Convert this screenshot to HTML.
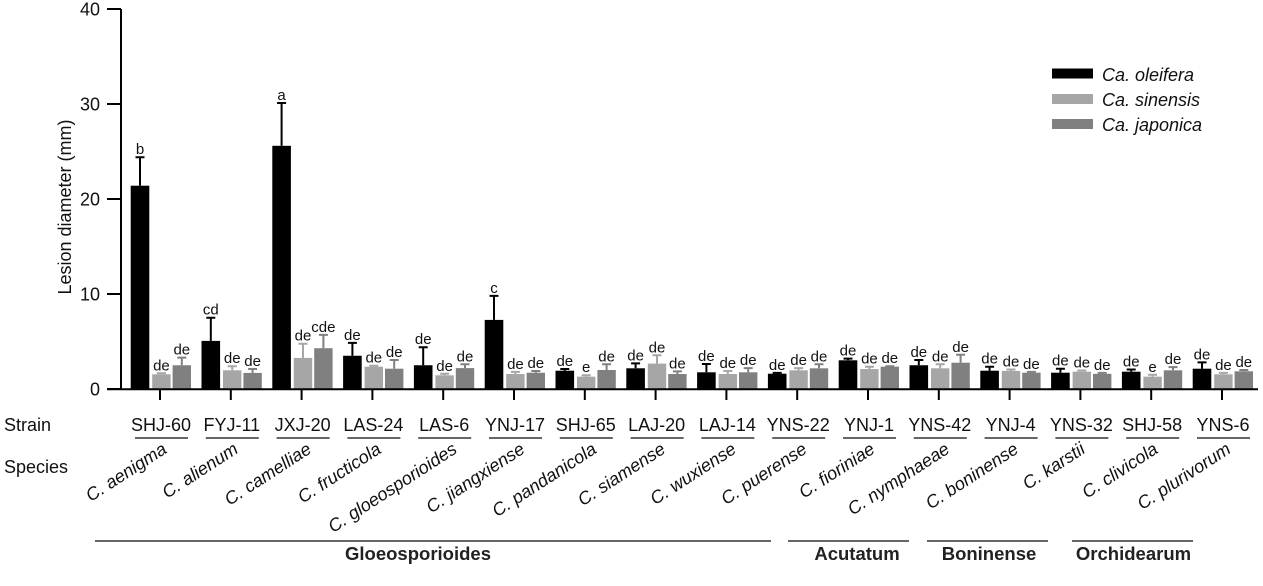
<!DOCTYPE html>
<html>
<head>
<meta charset="utf-8">
<style>
html,body{margin:0;padding:0;background:#fff;}
svg{display:block;font-family:"Liberation Sans",Arial,sans-serif;}
.k{fill:#000;}
.l{fill:#a6a6a6;}
.d{fill:#808080;}
.ek{stroke:#000;stroke-width:2;fill:none;}
.el{stroke:#a6a6a6;stroke-width:2;fill:none;}
.ed{stroke:#808080;stroke-width:2;fill:none;}
.sig text{font-size:15px;text-anchor:middle;fill:#111;}
.strain{font-size:18px;text-anchor:middle;fill:#111;}
.sp{font-size:18px;font-style:italic;text-anchor:end;fill:#111;}
.grp{font-size:18.5px;font-weight:bold;text-anchor:middle;fill:#222;}
</style>
</head>
<body>
<svg width="1263" height="586" viewBox="0 0 1263 586" xmlns="http://www.w3.org/2000/svg">
<rect x="0" y="0" width="1263" height="586" fill="#fff"/>

<g class="sig" transform="translate(160,0)">
<rect class="k" x="-29.3" y="185.7" width="18.6" height="204.3"/>
<rect class="l" x="-7.8" y="374.3" width="18.4" height="15.7"/>
<rect class="d" x="12.6" y="365.25" width="18.4" height="24.75"/>
<path class="ek" d="M-20 185.7V157.2M-24.5 157.2H-15.5"/>
<path class="el" d="M1.4 374.3V373.3M-3.1 373.3H5.9"/>
<path class="ed" d="M21.8 365.25V357.65M17.3 357.65H26.3"/>
<text x="-20" y="154.2">b</text><text x="1.4" y="370.3">de</text><text x="21.8" y="354.6">de</text>
</g>
<g class="sig" transform="translate(230.8,0)">
<rect class="k" x="-29.3" y="340.9" width="18.6" height="49.1"/>
<rect class="l" x="-7.8" y="370.3" width="18.4" height="19.7"/>
<rect class="d" x="12.6" y="372.9" width="18.4" height="17.1"/>
<path class="ek" d="M-20 340.9V317.75M-24.5 317.75H-15.5"/>
<path class="el" d="M1.4 370.3V366.2M-3.1 366.2H5.9"/>
<path class="ed" d="M21.8 372.9V369.05M17.3 369.05H26.3"/>
<text x="-20" y="314.7">cd</text><text x="1.4" y="363.2">de</text><text x="21.8" y="366">de</text>
</g>
<g class="sig" transform="translate(301.6,0)">
<rect class="k" x="-29.3" y="145.8" width="18.6" height="244.2"/>
<rect class="l" x="-7.8" y="357.9" width="18.4" height="32.1"/>
<rect class="d" x="12.6" y="348.2" width="18.4" height="41.8"/>
<path class="ek" d="M-20 145.8V103.05M-24.5 103.05H-15.5"/>
<path class="el" d="M1.4 357.9V343.7M-3.1 343.7H5.9"/>
<path class="ed" d="M21.8 348.2V334.85M17.3 334.85H26.3"/>
<text x="-20" y="100">a</text><text x="1.4" y="340.7">de</text><text x="21.8" y="331.8">cde</text>
</g>
<g class="sig" transform="translate(372.4,0)">
<rect class="k" x="-29.3" y="355.75" width="18.6" height="34.25"/>
<rect class="l" x="-7.8" y="366.7" width="18.4" height="23.3"/>
<rect class="d" x="12.6" y="368.7" width="18.4" height="21.3"/>
<path class="ek" d="M-20 355.75V342.9M-24.5 342.9H-15.5"/>
<path class="el" d="M1.4 366.7V365.7M-3.1 365.7H5.9"/>
<path class="ed" d="M21.8 368.7V360M17.3 360H26.3"/>
<text x="-20" y="339.9">de</text><text x="1.4" y="362.7">de</text><text x="21.8" y="357">de</text>
</g>
<g class="sig" transform="translate(443.2,0)">
<rect class="k" x="-29.3" y="365.25" width="18.6" height="24.75"/>
<rect class="l" x="-7.8" y="375.3" width="18.4" height="14.7"/>
<rect class="d" x="12.6" y="368.1" width="18.4" height="21.9"/>
<path class="ek" d="M-20 365.25V347.2M-24.5 347.2H-15.5"/>
<path class="el" d="M1.4 375.3V373.8M-3.1 373.8H5.9"/>
<path class="ed" d="M21.8 368.1V364.3M17.3 364.3H26.3"/>
<text x="-20" y="344.2">de</text><text x="1.4" y="370.8">de</text><text x="21.8" y="361.3">de</text>
</g>
<g class="sig" transform="translate(514,0)">
<rect class="k" x="-29.3" y="319.9" width="18.6" height="70.1"/>
<rect class="l" x="-7.8" y="374" width="18.4" height="16"/>
<rect class="d" x="12.6" y="372.7" width="18.4" height="17.3"/>
<path class="ek" d="M-20 319.9V295.9M-24.5 295.9H-15.5"/>
<path class="el" d="M1.4 374V371.9M-3.1 371.9H5.9"/>
<path class="ed" d="M21.8 372.7V370.95M17.3 370.95H26.3"/>
<text x="-20" y="292.9">c</text><text x="1.4" y="368.9">de</text><text x="21.8" y="368">de</text>
</g>
<g class="sig" transform="translate(584.8,0)">
<rect class="k" x="-29.3" y="370.7" width="18.6" height="19.3"/>
<rect class="l" x="-7.8" y="376.65" width="18.4" height="13.35"/>
<rect class="d" x="12.6" y="370" width="18.4" height="20"/>
<path class="ek" d="M-20 370.7V369.05M-24.5 369.05H-15.5"/>
<path class="el" d="M1.4 376.65V375.2M-3.1 375.2H5.9"/>
<path class="ed" d="M21.8 370V364.3M17.3 364.3H26.3"/>
<text x="-20" y="366">de</text><text x="1.4" y="372.2">e</text><text x="21.8" y="361.3">de</text>
</g>
<g class="sig" transform="translate(655.6,0)">
<rect class="k" x="-29.3" y="368.3" width="18.6" height="21.7"/>
<rect class="l" x="-7.8" y="363.6" width="18.4" height="26.4"/>
<rect class="d" x="12.6" y="374" width="18.4" height="16"/>
<path class="ek" d="M-20 368.3V363.35M-24.5 363.35H-15.5"/>
<path class="el" d="M1.4 363.6V355.3M-3.1 355.3H5.9"/>
<path class="ed" d="M21.8 374V371.4M17.3 371.4H26.3"/>
<text x="-20" y="360.3">de</text><text x="1.4" y="352.3">de</text><text x="21.8" y="368.4">de</text>
</g>
<g class="sig" transform="translate(726.4,0)">
<rect class="k" x="-29.3" y="372.3" width="18.6" height="17.7"/>
<rect class="l" x="-7.8" y="374" width="18.4" height="16"/>
<rect class="d" x="12.6" y="372.3" width="18.4" height="17.7"/>
<path class="ek" d="M-20 372.3V364M-24.5 364H-15.5"/>
<path class="el" d="M1.4 374V370.95M-3.1 370.95H5.9"/>
<path class="ed" d="M21.8 372.3V368.1M17.3 368.1H26.3"/>
<text x="-20" y="361">de</text><text x="1.4" y="368">de</text><text x="21.8" y="365.1">de</text>
</g>
<g class="sig" transform="translate(797.2,0)">
<rect class="k" x="-29.3" y="373.7" width="18.6" height="16.3"/>
<rect class="l" x="-7.8" y="370.3" width="18.4" height="19.7"/>
<rect class="d" x="12.6" y="368.3" width="18.4" height="21.7"/>
<path class="ek" d="M-20 373.7V372.85M-24.5 372.85H-15.5"/>
<path class="el" d="M1.4 370.3V368.1M-3.1 368.1H5.9"/>
<path class="ed" d="M21.8 368.3V364.3M17.3 364.3H26.3"/>
<text x="-20" y="369.9">de</text><text x="1.4" y="365.1">de</text><text x="21.8" y="361.3">de</text>
</g>
<g class="sig" transform="translate(868,0)">
<rect class="k" x="-29.3" y="360.3" width="18.6" height="29.7"/>
<rect class="l" x="-7.8" y="369.05" width="18.4" height="20.95"/>
<rect class="d" x="12.6" y="366.7" width="18.4" height="23.3"/>
<path class="ek" d="M-20 360.3V358.6M-24.5 358.6H-15.5"/>
<path class="el" d="M1.4 369.05V366.7M-3.1 366.7H5.9"/>
<path class="ed" d="M21.8 366.7V366.2M17.3 366.2H26.3"/>
<text x="-20" y="355.6">de</text><text x="1.4" y="363.7">de</text><text x="21.8" y="363.2">de</text>
</g>
<g class="sig" transform="translate(938.8,0)">
<rect class="k" x="-29.3" y="365.25" width="18.6" height="24.75"/>
<rect class="l" x="-7.8" y="368.3" width="18.4" height="21.7"/>
<rect class="d" x="12.6" y="362.7" width="18.4" height="27.3"/>
<path class="ek" d="M-20 365.25V360M-24.5 360H-15.5"/>
<path class="el" d="M1.4 368.3V364.3M-3.1 364.3H5.9"/>
<path class="ed" d="M21.8 362.7V354.8M17.3 354.8H26.3"/>
<text x="-20" y="357">de</text><text x="1.4" y="361.3">de</text><text x="21.8" y="351.8">de</text>
</g>
<g class="sig" transform="translate(1009.6,0)">
<rect class="k" x="-29.3" y="370.7" width="18.6" height="19.3"/>
<rect class="l" x="-7.8" y="370.95" width="18.4" height="19.05"/>
<rect class="d" x="12.6" y="372.7" width="18.4" height="17.3"/>
<path class="ek" d="M-20 370.7V366.7M-24.5 366.7H-15.5"/>
<path class="el" d="M1.4 370.95V369.5M-3.1 369.5H5.9"/>
<path class="ed" d="M21.8 372.7V371.9M17.3 371.9H26.3"/>
<text x="-20" y="363.7">de</text><text x="1.4" y="366.5">de</text><text x="21.8" y="368.9">de</text>
</g>
<g class="sig" transform="translate(1080.4,0)">
<rect class="k" x="-29.3" y="372.7" width="18.6" height="17.3"/>
<rect class="l" x="-7.8" y="371.7" width="18.4" height="18.3"/>
<rect class="d" x="12.6" y="373.8" width="18.4" height="16.2"/>
<path class="ek" d="M-20 372.7V368.7M-24.5 368.7H-15.5"/>
<path class="el" d="M1.4 371.7V370.5M-3.1 370.5H5.9"/>
<path class="ed" d="M21.8 373.8V372.85M17.3 372.85H26.3"/>
<text x="-20" y="365.7">de</text><text x="1.4" y="367.5">de</text><text x="21.8" y="369.9">de</text>
</g>
<g class="sig" transform="translate(1151.2,0)">
<rect class="k" x="-29.3" y="371.7" width="18.6" height="18.3"/>
<rect class="l" x="-7.8" y="376.65" width="18.4" height="13.35"/>
<rect class="d" x="12.6" y="370.3" width="18.4" height="19.7"/>
<path class="ek" d="M-20 371.7V369.5M-24.5 369.5H-15.5"/>
<path class="el" d="M1.4 376.65V374.75M-3.1 374.75H5.9"/>
<path class="ed" d="M21.8 370.3V367.15M17.3 367.15H26.3"/>
<text x="-20" y="366.5">de</text><text x="1.4" y="371.8">e</text><text x="21.8" y="364.2">de</text>
</g>
<g class="sig" transform="translate(1222,0)">
<rect class="k" x="-29.3" y="368.7" width="18.6" height="21.3"/>
<rect class="l" x="-7.8" y="374.3" width="18.4" height="15.7"/>
<rect class="d" x="12.6" y="371.3" width="18.4" height="18.7"/>
<path class="ek" d="M-20 368.7V362.4M-24.5 362.4H-15.5"/>
<path class="el" d="M1.4 374.3V372.85M-3.1 372.85H5.9"/>
<path class="ed" d="M21.8 371.3V370M17.3 370H26.3"/>
<text x="-20" y="359.4">de</text><text x="1.4" y="369.9">de</text><text x="21.8" y="367">de</text>
</g>

<g stroke="#000" stroke-width="2" fill="none">
<path d="M121 9V390"/>
<path d="M107 389.3H1258"/>
<path d="M107 9H121M107 104H121M107 199H121M107 294H121M107 389H121"/>
<path d="M160 390V400M230.8 390V400M301.6 390V400M372.4 390V400M443.2 390V400M514 390V400M584.8 390V400M655.6 390V400M726.4 390V400M797.2 390V400M868 390V400M938.8 390V400M1009.6 390V400M1080.4 390V400M1151.2 390V400M1222 390V400"/>
</g>
<g font-size="18" text-anchor="end" fill="#111">
<text x="100" y="15.4">40</text>
<text x="100" y="110.4">30</text>
<text x="100" y="205.4">20</text>
<text x="100" y="300.4">10</text>
<text x="100" y="395.4">0</text>
</g>
<text transform="translate(71,207) rotate(-90)" font-size="18" text-anchor="middle" fill="#111">Lesion diameter (mm)</text>

<text x="4" y="431" font-size="18" fill="#111">Strain</text>
<text x="4" y="473" font-size="18" fill="#111">Species</text>
<g class="strain">
<text class="strain" x="161" y="431">SHJ-60</text>
<text class="strain" x="231.8" y="431">FYJ-11</text>
<text class="strain" x="302.6" y="431">JXJ-20</text>
<text class="strain" x="373.4" y="431">LAS-24</text>
<text class="strain" x="444.2" y="431">LAS-6</text>
<text class="strain" x="515" y="431">YNJ-17</text>
<text class="strain" x="585.8" y="431">SHJ-65</text>
<text class="strain" x="656.6" y="431">LAJ-20</text>
<text class="strain" x="727.4" y="431">LAJ-14</text>
<text class="strain" x="798.2" y="431">YNS-22</text>
<text class="strain" x="869" y="431">YNJ-1</text>
<text class="strain" x="939.8" y="431">YNS-42</text>
<text class="strain" x="1010.6" y="431">YNJ-4</text>
<text class="strain" x="1081.4" y="431">YNS-32</text>
<text class="strain" x="1152.2" y="431">SHJ-58</text>
<text class="strain" x="1223" y="431">YNS-6</text>
</g>
<g stroke="#333" stroke-width="1.5">
<path d="M135 438H188M205.8 438H258.8M276.6 438H329.6M347.4 438H400.4M418.2 438H471.2M489 438H542M559.8 438H612.8M630.6 438H683.6M701.4 438H754.4M772.2 438H825.2M843 438H896M913.8 438H966.8M984.6 438H1037.6M1055.4 438H1108.4M1126.2 438H1179.2M1197 438H1250"/>
</g>

<text class="sp" transform="translate(168,452) rotate(-33)">C. aenigma</text>
<text class="sp" transform="translate(239.3,452) rotate(-33)">C. alienum</text>
<text class="sp" transform="translate(312.6,452) rotate(-33)">C. camelliae</text>
<text class="sp" transform="translate(382.4,452) rotate(-33)">C. fructicola</text>
<text class="sp" transform="translate(458.2,452) rotate(-33)">C. gloeosporioides</text>
<text class="sp" transform="translate(526,452) rotate(-33)">C. jiangxiense</text>
<text class="sp" transform="translate(597.8,452) rotate(-33)">C. pandanicola</text>
<text class="sp" transform="translate(666.6,452) rotate(-33)">C. siamense</text>
<text class="sp" transform="translate(737.4,452) rotate(-33)">C. wuxiense</text>
<text class="sp" transform="translate(808.2,452) rotate(-33)">C. puerense</text>
<text class="sp" transform="translate(876,452) rotate(-33)">C. fioriniae</text>
<text class="sp" transform="translate(950.8,452) rotate(-33)">C. nymphaeae</text>
<text class="sp" transform="translate(1019.6,452) rotate(-33)">C. boninense</text>
<text class="sp" transform="translate(1086.4,452) rotate(-33)">C. karstii</text>
<text class="sp" transform="translate(1159.2,452) rotate(-33)">C. clivicola</text>
<text class="sp" transform="translate(1232,452) rotate(-33)">C. plurivorum</text>

<g stroke="#333" stroke-width="1.5">
<path d="M95 541H771M788 541H909M927 541H1048M1072 541H1193"/>
</g>
<text class="grp" x="418" y="560">Gloeosporioides</text>
<text class="grp" x="857" y="560">Acutatum</text>
<text class="grp" x="989" y="560">Boninense</text>
<text class="grp" x="1133.5" y="560">Orchidearum</text>

<rect x="1052" y="68.5" width="41" height="10" fill="#000"/>
<rect x="1052" y="94" width="41" height="10" fill="#a6a6a6"/>
<rect x="1052" y="119" width="41" height="10" fill="#808080"/>
<g font-size="18" font-style="italic" fill="#111">
<text x="1102" y="81">Ca. oleifera</text>
<text x="1102" y="106">Ca. sinensis</text>
<text x="1102" y="131">Ca. japonica</text>
</g>
</svg>
</body>
</html>
